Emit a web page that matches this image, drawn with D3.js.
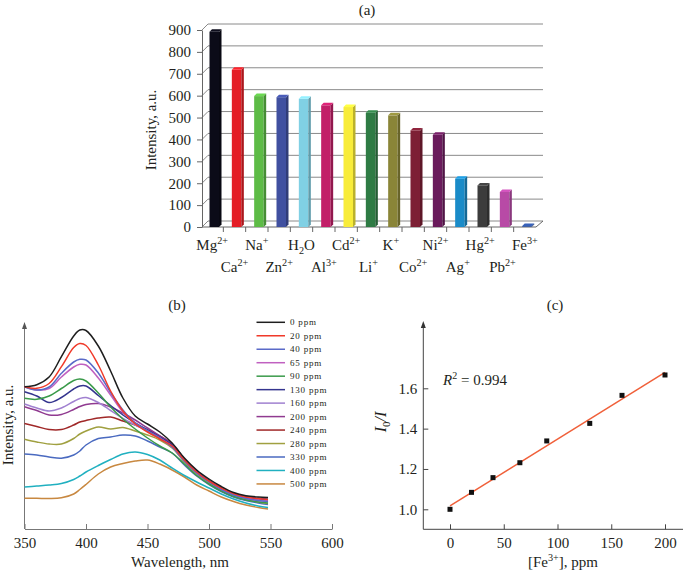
<!DOCTYPE html>
<html><head><meta charset="utf-8">
<script src="https://cdn.jsdelivr.net/npm/d3@7"></script>
<style>
body{margin:0;background:#fff}
svg{display:block}
text{font-family:"Liberation Serif","Times New Roman",serif;fill:#231f20}
</style>
</head><body>
<svg id="chart" width="685" height="572"></svg>
<script>
// ---------- Panel (a) data ----------
const ionLabels = [["Mg","^2+"],["Ca","^2+"],["Na","^+"],["Zn","^2+"],["H","_2","O"],["Al","^3+"],["Cd","^2+"],["Li","^+"],["K","^+"],["Co","^2+"],["Ni","^2+"],["Ag","^+"],["Hg","^2+"],["Pb","^2+"],["Fe","^3+"]];
const ionIntensity = [892,718,598,593,586,556,548,522,510,441,421,221,190,160,4];
const ionColors = ["#0b0b18","#e41e26","#5dbb46","#4050a0","#80d0e4","#c21f68","#f8ec3a","#2e7b44","#8a8538","#7d1f35","#6a1b5c","#1a8bc8","#3c3c3c","#b84aa6","#3054a0"];
const aTicks = [0,100,200,300,400,500,600,700,800,900];

// ---------- Panel (b) data ----------
const wavelength = [350,360,370,380,390,395,400,410,420,430,440,450,460,470,480,490,500,510,520,530,540,548];
const s0   = [142.3,144.3,152,172.3,193,199,198.5,183,158,131,113,105,97,86,71,59,50,42.5,36.5,33.3,32,31.5];
const s20  = [142.3,140.7,145.5,162.3,181.5,185.5,183.5,164,138,118,105,97,90,83,69,57,48,41,35.5,32,30.5,29.5];
const s40  = [142.3,139,142,155.7,167,169.7,169,156,136.5,119,106,98,91,82,68,56,47,39.5,34,30.5,28.5,27.5];
const s65  = [142.3,139,140.5,152,162,164.7,164,151,134,117,106,98,91,82.5,68.5,56.5,47.5,40,34.5,31,29,28];
const s90  = [130.7,129.7,133,140.5,148.5,150,148,136,122,110,100,91,83,76,65,53.5,45,38,32.5,29,27,26];
const s130 = [137.3,133,126.5,131.5,140,143,143,133.5,123.5,114,106,99,92,84,69.5,58,48.5,41,35.5,32,30.5,29.5];
const s160 = [125,121,118,121,127.5,130.5,131.5,126.5,118.5,110.5,104,98,91,82,68,56,47,39.5,34,30.5,28.5,27.5];
const s200 = [122.3,118.5,114,114.5,119.5,122.5,124.5,125.5,122,116,109,101,93,85,70,58,48.5,41,35.5,32,30.5,29.5];
const s240 = [105.5,102.5,99.5,99.5,104,107,108.5,111,112,108,104,99,93,85,70,58,48.5,41,35.5,32,30.5,29.5];
const s280 = [89.7,87,85,85,90.5,95,98,102,100,101.5,98,94,89,81,67,55,46,38.5,33,29.5,27,25.5];
const s330 = [75,74,72,70.7,74,78,84,90.5,92,94,93,88,82,76,64,53,44.5,37.5,32,28.5,26,24.5];
const s400 = [42,43,44,45.5,49.5,53,57,63.5,69.5,75,77,74.5,69,61,53.5,47,41,35,30,26,23,21.5];
const s500 = [30.7,30.7,30.5,31.2,35,39.5,44.5,55,62,65.5,68,69,65,59,52,44,38,32,27.5,24,21.5,20];
const concLabels = ["0 ppm","20 ppm","40 ppm","65 ppm","90 ppm","130 ppm","160 ppm","200 ppm","240 ppm","280 ppm","330 ppm","400 ppm","500 ppm"];
const spectra = [s0,s20,s40,s65,s90,s130,s160,s200,s240,s280,s330,s400,s500];
const specColors = ["#1e1e1e","#f03a2a","#5a6ac8","#c060c0","#3a9a4a","#35358f","#a080d0","#903a90","#a02828","#a0a040","#4a6ac0","#20b0c0","#c88840"];
const bTicks = [350,400,450,500,550,600];

// ---------- Panel (c) data ----------
const feConc = [0,20,40,65,90,130,160,200];
const ratio = [1.0,1.084,1.157,1.231,1.339,1.426,1.565,1.666];
const cXTicks = [0,50,100,150,200];
const cYTicks = [1.0,1.2,1.4,1.6];

const svg = d3.select("#chart");
const FONT = '"Liberation Serif","Times New Roman",serif';

function rich(textSel, parts, size){
  let shift = 0;
  parts.forEach(p=>{
    let t=p, target=0, fs=size, it=false;
    if(p[0]==='^'){t=p.slice(1);target=-0.38*size;fs=size*0.68;}
    else if(p[0]==='_'){t=p.slice(1);target=0.28*size;fs=size*0.68;}
    if(t[0]==='~'){t=t.slice(1);it=true;}
    const ts=textSel.append("tspan").attr("dy",target-shift).attr("font-size",fs).text(t);
    if(it) ts.attr("font-style","italic");
    shift=target;
  });
}

// ================= Panel (a) =================
{
  const y0 = 227, depth = 6;
  const y = d3.scaleLinear().domain([0,900]).range([227,30]);
  const x = d3.scaleBand().domain(d3.range(ionLabels.length)).range([201,536]);
  const g = svg.append("g");
  // back-wall gridlines and left-wall diagonals
  aTicks.forEach(v=>{
    g.append("line").attr("x1",202+depth).attr("x2",543).attr("y1",y(v)-depth).attr("y2",y(v)-depth)
      .attr("stroke","#8a8a8a").attr("stroke-width",1);
    g.append("line").attr("x1",202).attr("x2",202+depth).attr("y1",y(v)).attr("y2",y(v)-depth)
      .attr("stroke","#8a8a8a").attr("stroke-width",1);
  });
  // floor
  g.append("line").attr("x1",202).attr("x2",536).attr("y1",y0).attr("y2",y0).attr("stroke","#666");
  g.append("line").attr("x1",536).attr("x2",543).attr("y1",y0).attr("y2",y0-depth).attr("stroke","#666");
  // left axis
  const ax = g.append("g").attr("transform","translate(202,0)")
    .call(d3.axisLeft(y).tickValues(aTicks).tickSize(5).tickSizeOuter(0).tickPadding(6));
  ax.attr("font-family",FONT).attr("font-size",15);
  ax.select(".domain").attr("stroke","#666");
  ax.selectAll(".tick line").attr("stroke","#666");
  ax.selectAll("text").attr("fill","#231f20");
  // category ticks
  d3.range(1,ionLabels.length).forEach(i=>{
    g.append("line").attr("x1",x(i)).attr("x2",x(i)).attr("y1",y0).attr("y2",y0+5).attr("stroke","#666");
  });
  // bars (front, side, top)
  const d = 2.5, bw = 9.5;
  ionIntensity.forEach((v,i)=>{
    const xs = x(i)+8.5, yt = y(v);
    const c = d3.color(ionColors[i]);
    g.append("rect").attr("x",xs).attr("y",yt).attr("width",bw).attr("height",y0-yt).attr("fill",c);
    g.append("polygon").attr("points",[[xs+bw,y0],[xs+bw+d,y0-d],[xs+bw+d,yt-d],[xs+bw,yt]].join(" "))
      .attr("fill",c.darker(0.8));
    g.append("polygon").attr("points",[[xs,yt],[xs+d,yt-d],[xs+bw+d,yt-d],[xs+bw,yt]].join(" "))
      .attr("fill",c.brighter(0.4));
  });
  // category labels
  ionLabels.forEach((lab,i)=>{
    const t = g.append("text").attr("x",x(i)+x.bandwidth()/2).attr("y", i%2===0?250:272)
      .attr("text-anchor","middle").attr("font-size",15);
    rich(t, lab, 15);
  });
  g.append("text").attr("transform","translate(156,130) rotate(-90)").attr("text-anchor","middle")
    .attr("font-size",15).text("Intensity, a.u.");
  g.append("text").attr("x",367).attr("y",15).attr("text-anchor","middle").attr("font-size",15).text("(a)");
}

// ================= Panel (b) =================
{
  const x = d3.scaleLinear().domain([350,600]).range([24.5,332]);
  const y = d3.scaleLinear().domain([0,206]).range([529,323]);
  const g = svg.append("g");
  const ax = g.append("g").attr("transform","translate(0,529)")
    .call(d3.axisBottom(x).tickValues(bTicks).tickSize(-5).tickSizeOuter(0).tickPadding(8));
  ax.attr("font-family",FONT).attr("font-size",15);
  ax.select(".domain").attr("stroke","#777");
  ax.selectAll(".tick line").attr("stroke","#777");
  ax.selectAll("text").attr("fill","#231f20");
  g.append("line").attr("x1",24.5).attr("x2",24.5).attr("y1",529).attr("y2",y(203)).attr("stroke","#777");
  g.append("polygon").attr("points",[[24.5,y(206)-1],[22,y(206)+6],[27,y(206)+6]].join(" ")).attr("fill","#555");

  const line = d3.line().x((d,i)=>x(wavelength[i])).y(d=>y(d)).curve(d3.curveCatmullRom.alpha(0.5));
  for(let k=spectra.length-1;k>=0;k--){
    g.append("path").attr("d",line(spectra[k])).attr("fill","none")
      .attr("stroke",specColors[k]).attr("stroke-width",1.5);
  }
  // legend
  concLabels.forEach((lab,k)=>{
    const yy = 322.3 + k*13.47;
    g.append("line").attr("x1",256.5).attr("x2",285).attr("y1",yy).attr("y2",yy)
      .attr("stroke",specColors[k]).attr("stroke-width",1.5);
    g.append("text").attr("x",290).attr("y",yy).attr("dy","0.35em").attr("font-size",9)
      .attr("letter-spacing","0.8px").text(lab);
  });
  g.append("text").attr("transform","translate(13,425) rotate(-90)").attr("text-anchor","middle")
    .attr("font-size",15).text("Intensity, a.u.");
  g.append("text").attr("x",180).attr("y",567).attr("text-anchor","middle").attr("font-size",15).text("Wavelength, nm");
  g.append("text").attr("x",177).attr("y",310).attr("text-anchor","middle").attr("font-size",15).text("(b)");
}

// ================= Panel (c) =================
{
  const x = d3.scaleLinear().domain([0,200]).range([450,665]);
  const y = d3.scaleLinear().domain([1.0,1.6]).range([509.3,388.3]);
  const g = svg.append("g");
  const ax = g.append("g").attr("transform","translate(0,529.3)")
    .call(d3.axisBottom(x).tickValues(cXTicks).tickSize(-5).tickSizeOuter(0).tickPadding(8));
  ax.select(".domain").remove();
  ax.attr("font-family",FONT).attr("font-size",15);
  ax.selectAll(".tick line").attr("stroke","#444");
  ax.selectAll("text").attr("fill","#231f20");
  g.append("line").attr("x1",423.3).attr("x2",683).attr("y1",529.3).attr("y2",529.3).attr("stroke","#444");
  const ay = g.append("g").attr("transform","translate(423.3,0)")
    .call(d3.axisLeft(y).tickValues(cYTicks).tickFormat(d3.format(".1f")).tickSize(-5).tickSizeOuter(0).tickPadding(6));
  ay.select(".domain").remove();
  ay.attr("font-family",FONT).attr("font-size",15);
  ay.selectAll(".tick line").attr("stroke","#444");
  ay.selectAll("text").attr("fill","#231f20");
  g.append("line").attr("x1",423.3).attr("x2",423.3).attr("y1",529.3).attr("y2",326).attr("stroke","#444");
  g.append("polygon").attr("points",[[423.3,321],[420.8,328],[425.8,328]].join(" ")).attr("fill","#333");

  // linear regression fit
  const mx = d3.mean(feConc), my = d3.mean(ratio);
  const slope = d3.sum(feConc,(v,i)=>(v-mx)*(ratio[i]-my))/d3.sum(feConc,v=>(v-mx)*(v-mx));
  const icpt = my - slope*mx;
  const xr = d3.extent(feConc);
  g.append("line").attr("x1",x(xr[0])).attr("y1",y(icpt+slope*xr[0])).attr("x2",x(xr[1])).attr("y2",y(icpt+slope*xr[1]))
    .attr("stroke","#f0603a").attr("stroke-width",1.5);
  feConc.forEach((c,i)=>{
    g.append("rect").attr("x",x(c)-2.5).attr("y",y(ratio[i])-2.5).attr("width",5).attr("height",5).attr("fill","#111");
  });
  const r = g.append("text").attr("x",443).attr("y",385).attr("font-size",15);
  r.append("tspan").attr("font-style","italic").text("R");
  r.append("tspan").attr("dy",-6).attr("font-size",10).text("2");
  r.append("tspan").attr("dy",6).text(" = 0.994");

  const yl = g.append("text").attr("transform","translate(386,422) rotate(-90)").attr("text-anchor","middle").attr("font-size",16);
  yl.append("tspan").attr("font-style","italic").text("I");
  yl.append("tspan").attr("dy",4).attr("font-size",11).text("0");
  yl.append("tspan").attr("dy",-4).attr("font-style","italic").text("/I");

  const xl = g.append("text").attr("x",563).attr("y",567).attr("text-anchor","middle").attr("font-size",15);
  rich(xl, ["[Fe","^3+","], ppm"], 15);
  g.append("text").attr("x",555).attr("y",310).attr("text-anchor","middle").attr("font-size",15).text("(c)");
}
</script>
</body></html>
